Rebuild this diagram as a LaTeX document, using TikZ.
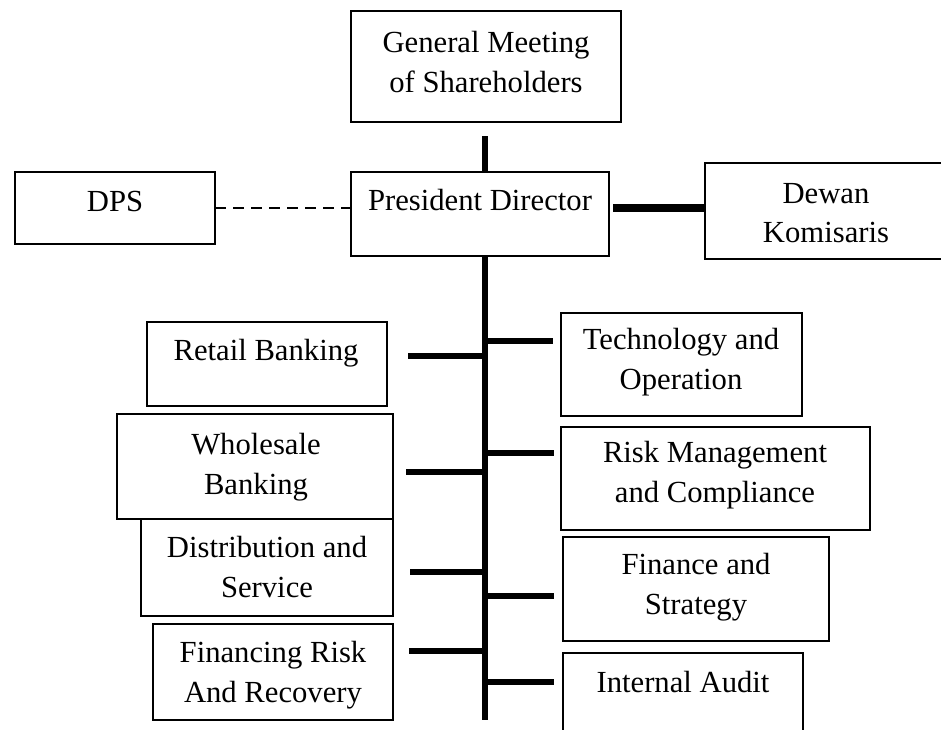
\documentclass[tikz,border=0pt]{standalone}
\usepackage{fontspec}
\setmainfont{Liberation Serif}
\begin{document}
\begin{tikzpicture}[x=0.75pt,y=-0.75pt,
  orgrect/.style={draw, line width=1.5pt, inner sep=0pt, outer sep=0pt},
  lbl/.style={align=center, inner sep=0pt, font=\fontsize{23}{29.5}\selectfont},
  trunk/.style={line width=4.9pt},
  branch/.style={line width=4.9pt},
  boardlink/.style={line width=5.6pt},
  advisory/.style={line width=2.2pt, dash pattern=on 8pt off 5.5pt},
]
\useasboundingbox (0,0) rectangle (941,729);

% box given by its corners (x1,y1) and (x2,y2), in pixel units
\newcommand\orgbox[5]{%
  \pgfmathsetmacro\bw{(#4-#2)*0.75}%
  \pgfmathsetmacro\bh{(#5-#3)*0.75}%
  \node[orgrect, minimum width=\bw pt, minimum height=\bh pt] (#1)
    at ({(#2+#4)/2},{(#3+#5)/2}) {};}

% boxes
\orgbox{gm}{351}{11}{621}{122}
\orgbox{dps}{15}{172}{215}{244}
\orgbox{pd}{351}{172}{609}{256}
\orgbox{dk}{705}{163}{946}{259}
\orgbox{rb}{147}{322}{387}{406}
\orgbox{to}{561}{313}{802}{416}
\orgbox{wb}{117}{414}{393}{519}
\orgbox{rm}{561}{427}{870}{530}
\orgbox{ds}{141}{519}{393}{616}
\orgbox{fs}{563}{537}{829}{641}
\orgbox{fr}{153}{624}{393}{720}
\orgbox{ia}{563}{653}{803}{745}

% labels
\node[lbl] (gmt) at (486,62) {General Meeting\\of Shareholders};
\node[lbl] (dpst) at (115,201) {DPS};
\node[lbl] (pdt) at (480,200) {President Director};
\node[lbl] (dkt) at (826,213) {Dewan\\Komisaris};
\node[lbl] (rbt) at (266,353) {Retail Banking};
\node[lbl] (tot) at (681,362) {Technology and\\Operation};
\node[lbl] (wbt) at (256,467) {Wholesale\\Banking};
\node[lbl] (rmt) at (715,475) {Risk Management\\and Compliance};
\node[lbl] (dst) at (267,567) {Distribution and\\Service};
\node[lbl] (fst) at (696,587) {Finance and\\Strategy};
\node[lbl] (frt) at (273,675) {Financing Risk\\And Recovery};
\node[lbl] (iat) at (683,682) {Internal Audit};

% trunk
\coordinate (gmlink) at (485,136);
\coordinate (trunkend) at (485,720);
\draw[trunk] (gmlink) -- (gmlink |- pd.north);
\draw[trunk] (gmlink |- pd.south) -- (trunkend);

% side links of the president director
\draw[advisory] (dps.east) -- (dps.east -| pd.west);
\coordinate (dkL) at (613,208);
\draw[boardlink] (dkL) -- (dkL -| dk.west);

% free ends of the branches
\coordinate (rbE) at (408,356);
\coordinate (wbE) at (406,472);
\coordinate (dsE) at (410,572);
\coordinate (frE) at (409,651);
\coordinate (toE) at (553,341);
\coordinate (rmE) at (554,453);
\coordinate (fsE) at (554,596);
\coordinate (iaE) at (554,682);

\foreach \e in {rbE,wbE,dsE,frE,toE,rmE,fsE,iaE}
  \draw[branch] (\e -| trunkend) -- (\e);
\end{tikzpicture}
\end{document}
